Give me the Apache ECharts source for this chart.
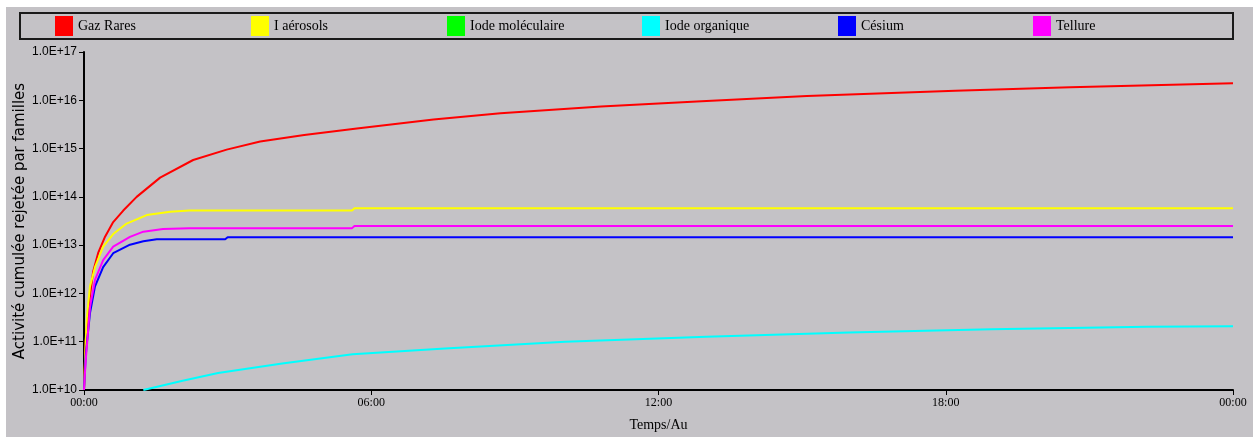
<!DOCTYPE html>
<html><head><meta charset="utf-8">
<script src="https://cdn.jsdelivr.net/npm/echarts@6/dist/echarts.min.js"></script>
<style>html,body{margin:0;padding:0;background:#fff}#c{width:1258px;height:437px}</style>
</head><body><div id="c"></div>
<script>
// Hours since 00:00
const seriesNames = ['Gaz Rares', 'I aérosols', 'Iode moléculaire', 'Iode organique', 'Césium', 'Tellure'];
const seriesColors = ['#ff0000', '#ffff00', '#00ff00', '#00ffff', '#0000ff', '#ff00ff'];

const tGaz = [0, 0.035, 0.06, 0.125, 0.19, 0.3, 0.44, 0.61, 0.82, 1.1, 1.59, 2.28, 2.98, 3.68, 4.6, 5.7, 7.3, 8.7, 10.8, 12.9, 15.1, 18.2, 20.6, 24];
const vGaz = [1e10, 1e11, 2e11, 8.9e11, 2.8e12, 7.1e12, 1.5e13, 3.0e13, 5.2e13, 1.0e14, 2.5e14, 5.8e14, 9.5e14, 1.4e15, 1.9e15, 2.6e15, 4.0e15, 5.4e15, 7.4e15, 9.5e15, 1.23e16, 1.58e16, 1.86e16, 2.24e16];

const tAer = [0, 0.035, 0.06, 0.125, 0.23, 0.4, 0.61, 0.89, 1.31, 1.8, 2.2, 5.6, 5.65, 24];
const vAer = [1e10, 1e11, 3.2e11, 1.4e12, 3.5e12, 9.3e12, 1.7e13, 2.8e13, 4.2e13, 4.9e13, 5.2e13, 5.2e13, 5.8e13, 5.8e13];

const tMol = [];
const vMol = [];

const tOrg = [1.24, 2.06, 2.8, 4.14, 5.61, 7.54, 10.05, 13.0, 15.98, 18.95, 22.2, 24];
const vOrg = [1e10, 1.55e10, 2.24e10, 3.55e10, 5.5e10, 7.2e10, 1.0e11, 1.26e11, 1.55e11, 1.82e11, 2.04e11, 2.09e11];

const tCes = [0, 0.035, 0.06, 0.125, 0.23, 0.4, 0.61, 0.96, 1.24, 1.52, 2.95, 3.0, 24];
const vCes = [1e10, 5e10, 9.3e10, 3.9e11, 1.4e12, 3.5e12, 6.8e12, 1.02e13, 1.2e13, 1.32e13, 1.32e13, 1.45e13, 1.45e13];

const tTel = [0, 0.035, 0.06, 0.125, 0.23, 0.4, 0.61, 0.96, 1.24, 1.65, 2.2, 5.6, 5.65, 24];
const vTel = [1e10, 4e10, 8e10, 5.2e11, 1.9e12, 4.9e12, 9.3e12, 1.48e13, 1.9e13, 2.15e13, 2.25e13, 2.25e13, 2.5e13, 2.5e13];

const xTicks = [0, 6, 12, 18, 24];
const yTicks = [1e10, 1e11, 1e12, 1e13, 1e14, 1e15, 1e16, 1e17];

const times = [tGaz, tAer, tMol, tOrg, tCes, tTel];
const vals = [vGaz, vAer, vMol, vOrg, vCes, vTel];

const chart = echarts.init(document.getElementById('c'), null, {renderer: 'canvas'});
const legendX = [55, 251, 447, 642, 838, 1033];

const option = {
  animation: false,
  backgroundColor: '#ffffff',
  graphic: [
    {type: 'rect', z: -10, silent: true, shape: {x: 6, y: 7, width: 1247, height: 430}, style: {fill: '#c4c2c6'}},
    {type: 'rect', z: 1, silent: true, shape: {x: 20, y: 13, width: 1213, height: 26}, style: {fill: 'none', stroke: '#1a1a1a', lineWidth: 2}}
  ],
  legend: seriesNames.map((n, i) => ({
    data: [n], left: legendX[i], top: 16, itemWidth: 18, itemHeight: 20, icon: 'rect',
    selectedMode: false, itemGap: 0, padding: 0,
    textStyle: {fontFamily: 'Liberation Serif', fontSize: 14, color: '#000'}
  })),
  grid: {left: 84, right: 25, top: 52, bottom: 47, outerBoundsMode: 'none', containLabel: false},
  xAxis: {
    type: 'value', min: xTicks[0], max: xTicks[xTicks.length - 1], interval: 6,
    name: 'Temps/Au', nameLocation: 'middle', nameGap: 28,
    nameTextStyle: {fontFamily: 'Liberation Serif', fontSize: 14, color: '#000'},
    axisLine: {lineStyle: {color: '#000', width: 2}},
    axisTick: {length: 5, lineStyle: {color: '#000', width: 1}},
    axisLabel: {color: '#000', fontFamily: 'Liberation Serif', fontSize: 12, margin: 7,
      formatter: v => { const h = v % 24; return (h < 10 ? '0' : '') + h + ':00'; }},
    splitLine: {show: false}
  },
  yAxis: {
    type: 'log', logBase: 10, min: yTicks[0], max: yTicks[yTicks.length - 1],
    name: 'Activité cumulée rejetée par familles', nameLocation: 'middle', nameGap: 56, nameRotate: 90,
    nameMoveOverlap: false,
    nameTextStyle: {fontFamily: 'DejaVu Sans', fontSize: 15, color: '#000'},
    axisLine: {show: true, lineStyle: {color: '#000', width: 2}},
    axisTick: {show: true, length: 5, lineStyle: {color: '#000', width: 1}},
    axisLabel: {color: '#000', fontFamily: 'Liberation Sans', fontSize: 12, margin: 7,
      formatter: v => '1.0E+' + Math.round(Math.log10(v))},
    splitLine: {show: false}
  },
  series: seriesNames.map((n, i) => ({
    name: n, type: 'line', showSymbol: false, symbol: 'none',
    smooth: false,
    color: seriesColors[i],
    lineStyle: {width: 2, color: seriesColors[i]},
    data: times[i].map((t, j) => [t, vals[i][j]])
  }))
};
chart.setOption(option);
</script></body></html>
